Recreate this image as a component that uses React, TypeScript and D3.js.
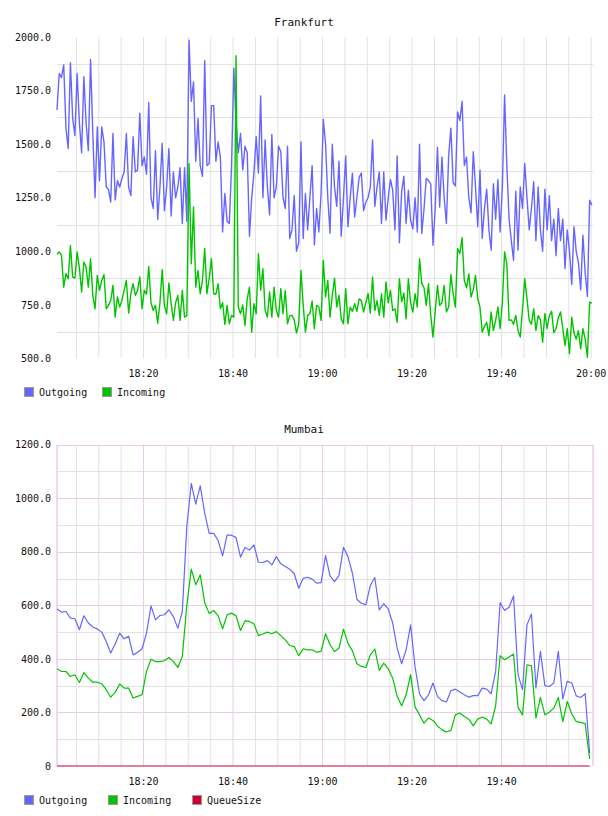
import React from 'react'
import * as d3 from 'd3'

// Frankfurt: one sample every 30 s, Mumbai: one sample every minute
const frankfurtOutgoing = [
  1660, 1830, 1810, 1870, 1575, 1480, 1880, 1620, 1540, 1830, 1600, 1460, 1815, 1600, 1470, 1895, 1550, 1250, 1580, 1330,
  1580, 1510, 1300, 1290, 1230, 1550, 1240, 1330, 1300, 1340, 1370, 1550, 1300, 1260, 1535, 1370, 1380, 1645, 1400, 1440,
  1360, 1695, 1250, 1200, 1470, 1150, 1300, 1505, 1190, 1300, 1480, 1165, 1370, 1250, 1300, 1390, 1130, 1390, 1140, 1985,
  1700, 1790, 1420, 1620, 1400, 1350, 1890, 1400, 1410, 1680, 1680, 1420, 1510, 1440, 1090, 1270, 1140, 1130, 1400, 1855,
  1600, 1460, 1550, 1380, 1490, 1460, 1070, 1250, 1365, 1535, 1365, 1725, 1250, 1520, 1300, 1170, 1545, 1250, 1300, 1490,
  1465, 1250, 1200, 1490, 1060, 1100, 1260, 1000, 1040, 1510, 1060, 1270, 1100, 1250, 1400, 1030, 1200, 1090, 1270, 1615,
  1500, 1250, 1085, 1500, 1300, 1210, 1420, 1070, 1250, 1445, 1115, 1250, 1365, 1160, 1250, 1345, 1365, 1190, 1230, 1250,
  1300, 1520, 1210, 1300, 1370, 1130, 1370, 1145, 1250, 1335, 1285, 1100, 1445, 1040, 1280, 1350, 1130, 1285, 1145, 1105,
  1250, 1090, 1500, 1083, 1200, 1340, 1330, 1315, 1028, 1200, 1485, 1207, 1440, 1250, 1130, 1445, 1575, 1320, 1305, 1650,
  1610, 1700, 1400, 1440, 1250, 1180, 1465, 1300, 1115, 1380, 1060, 1200, 1290, 1100, 1005, 1315, 1150, 1335, 1090, 1300,
  1730, 1400, 1150, 1050, 958, 1280, 1005, 1300, 1200, 1410, 1250, 1100, 1200, 1325, 1050, 1300, 1100, 1000, 1290, 1100,
  1260, 1050, 1150, 980, 1200, 1050, 1150, 920, 1100, 1000, 845, 1115, 1000, 945, 820, 1075, 900, 790, 1238, 1215,
]

const frankfurtIncoming = [
  986, 997, 981, 833, 896, 872, 1027, 880, 875, 997, 924, 810, 950, 927, 833, 966, 794, 732, 888, 818,
  864, 891, 732, 748, 771, 841, 693, 787, 740, 771, 818, 864, 712, 802, 849, 794, 818, 880, 732, 818,
  800, 930, 760, 724, 748, 665, 760, 914, 748, 709, 852, 756, 678, 760, 794, 678, 818, 693, 700, 1410,
  942, 1207, 833, 911, 802, 864, 1013, 802, 872, 966, 802, 800, 849, 732, 760, 659, 748, 662, 701, 693,
  1913, 740, 709, 750, 654, 778, 833, 623, 756, 709, 989, 818, 919, 724, 693, 810, 693, 833, 724, 693,
  826, 709, 818, 662, 700, 701, 680, 619, 660, 911, 750, 623, 701, 709, 768, 639, 748, 740, 678, 958,
  787, 864, 693, 794, 875, 740, 794, 685, 662, 826, 662, 740, 720, 756, 720, 778, 770, 717, 760, 802,
  712, 880, 724, 770, 701, 802, 693, 857, 760, 818, 724, 732, 669, 872, 764, 805, 685, 872, 760, 717,
  802, 740, 966, 849, 830, 748, 849, 701, 600, 720, 841, 748, 760, 841, 717, 740, 891, 802, 740, 1013,
  990, 1064, 864, 830, 896, 787, 820, 888, 780, 740, 623, 650, 669, 607, 717, 630, 678, 740, 640, 760,
  997, 940, 678, 680, 660, 701, 630, 600, 730, 872, 780, 678, 660, 732, 631, 700, 680, 576, 710, 640,
  700, 720, 620, 640, 690, 717, 640, 561, 640, 522, 693, 620, 590, 630, 545, 639, 590, 506, 763, 758,
]

const mumbaiOutgoing = [
  586, 575, 577, 552, 550, 509, 561, 534, 519, 512, 500, 465, 422, 456, 496, 475, 485, 415, 425, 438,
  496, 598, 546, 562, 565, 583, 558, 515, 577, 894, 1056, 978, 1046, 944, 869, 869, 842, 785, 862, 862,
  853, 780, 816, 807, 826, 761, 760, 767, 751, 782, 755, 745, 735, 718, 664, 701, 705, 698, 683, 685,
  786, 710, 689, 711, 817, 782, 720, 623, 608, 602, 674, 704, 583, 606, 587, 534, 440, 382, 434, 527,
  370, 269, 244, 266, 310, 260, 244, 239, 281, 287, 276, 266, 257, 263, 263, 291, 287, 270, 353, 610,
  581, 593, 635, 341, 285, 527, 568, 291, 428, 300, 297, 310, 428, 250, 316, 310, 262, 256, 270, 48,
]

const mumbaiIncoming = [
  363, 353, 353, 334, 341, 312, 349, 328, 313, 313, 307, 285, 257, 275, 306, 291, 291, 254, 260, 266,
  353, 399, 390, 390, 393, 405, 390, 368, 409, 600, 735, 677, 714, 610, 570, 581, 561, 512, 565, 571,
  561, 506, 542, 540, 531, 487, 493, 500, 494, 502, 487, 471, 450, 446, 412, 438, 434, 434, 425, 428,
  494, 453, 428, 440, 511, 459, 430, 382, 372, 368, 415, 437, 357, 384, 363, 328, 260, 225, 266, 341,
  220, 191, 160, 179, 170, 150, 135, 127, 133, 191, 198, 185, 175, 150, 175, 183, 175, 157, 225, 412,
  397, 407, 418, 220, 191, 378, 374, 179, 256, 191, 201, 216, 256, 166, 241, 195, 166, 163, 158, 26,
]

const mumbaiQueueSize = [
  0, 0, 0, 0, 0, 0, 0, 0, 0, 0, 0, 0, 0, 0, 0, 0, 0, 0, 0, 0,
  0, 0, 0, 0, 0, 0, 0, 0, 0, 0, 0, 0, 0, 0, 0, 0, 0, 0, 0, 0,
  0, 0, 0, 0, 0, 0, 0, 0, 0, 0, 0, 0, 0, 0, 0, 0, 0, 0, 0, 0,
  0, 0, 0, 0, 0, 0, 0, 0, 0, 0, 0, 0, 0, 0, 0, 0, 0, 0, 0, 0,
  0, 0, 0, 0, 0, 0, 0, 0, 0, 0, 0, 0, 0, 0, 0, 0, 0, 0, 0, 0,
  0, 0, 0, 0, 0, 0, 0, 0, 0, 0, 0, 0, 0, 0, 0, 0, 0, 0, 0, 0,
]

const frankfurtTicks = [500, 750, 1000, 1250, 1500, 1750, 2000]
const frankfurtGrid = [625, 875, 1125, 1375, 1625, 1875]
const mumbaiTicks = [0, 200, 400, 600, 800, 1000, 1200]
const mumbaiMinorGrid = [100, 300, 500, 700, 900, 1100]

const startTime = new Date(2012, 5, 14, 18, 0, 40)
const endTime = new Date(2012, 5, 14, 20, 0, 25)

const frankfurtTimes = frankfurtOutgoing.map((_, i) => d3.timeSecond.offset(startTime, i * 30))
const mumbaiTimes = mumbaiOutgoing.map((_, i) => d3.timeMinute.offset(startTime, i))

const BLUE = '#6666ff'
const GREEN = '#00c400'
const RED = '#cc0033'
const GRID = '#e2e2e2'
const PINK = '#e8cce8'
const FONT = '"DejaVu Sans Mono", monospace'

const left = 57
const right = 593

const x = d3.scaleTime().domain([startTime, endTime]).range([left, right])
const labelTicks = x.ticks(d3.timeMinute.every(20))
const gridTicks = x.ticks(d3.timeMinute.every(5))
const timeFmt = d3.timeFormat('%H:%M')

const Legend = ({ y, items }) => (
  <g>
    {items.map((it) => (
      <g key={it.name}>
        <rect x={it.x + 0.5} y={y + 0.5} width={9} height={9} fill={it.color} stroke="#999" />
        <text x={it.x + 15} y={y + 8.5} fontSize={10} fontFamily={FONT} fill="#111">{it.name}</text>
      </g>
    ))}
  </g>
)

const App = () => {
  // Frankfurt panel
  const fTop = 37
  const fBottom = 358.5
  const yF = d3.scaleLinear().domain([500, 2000]).range([fBottom, fTop])
  const lineF = (vals) => d3.line<number>().x((_, i) => x(frankfurtTimes[i])).y((d) => yF(d))(vals)

  // Mumbai panel
  const mTop = 444.7
  const mBottom = 766
  const yM = d3.scaleLinear().domain([0, 1200]).range([mBottom, mTop])
  const lineM = (vals) => d3.line<number>().x((_, i) => x(mumbaiTimes[i])).y((d) => yM(d))(vals)
  const fmt = d3.format('.1f')
  const isLabel = (t) => labelTicks.some((l) => +l === +t)
  // the 20:00 line falls on the frame's right edge
  const innerLabels = labelTicks.filter((t) => x(t) < right - 4)

  return (
    <svg width={608} height={816} style={{ position: 'absolute', left: 0, top: 0, background: '#fff' }}>
      {/* Frankfurt */}
      <text x={304} y={25.5} textAnchor="middle" fontSize={11} fontFamily={FONT} fill="#111">Frankfurt</text>
      {gridTicks.map((t) => (
        <line key={+t} x1={x(t)} x2={x(t)} y1={fTop} y2={fBottom} stroke={GRID} />
      ))}
      {frankfurtGrid.map((v) => (
        <line key={v} x1={left} x2={right} y1={Math.round(yF(v)) + 0.5} y2={Math.round(yF(v)) + 0.5} stroke={GRID} />
      ))}
      {frankfurtTicks.map((v) => (
        <text key={v} x={51} y={yF(v)} dy="0.36em" textAnchor="end" fontSize={10} fontFamily={FONT} fill="#111">{fmt(v)}</text>
      ))}
      {labelTicks.map((t) => (
        <text key={+t} x={x(t)} y={377} textAnchor="middle" fontSize={10} fontFamily={FONT} fill="#111">{timeFmt(t)}</text>
      ))}
      <path d={lineF(frankfurtOutgoing)} fill="none" stroke={BLUE} strokeWidth={1.4} strokeLinejoin="round" />
      <path d={lineF(frankfurtIncoming)} fill="none" stroke={GREEN} strokeWidth={1.4} strokeLinejoin="round" />
      <Legend y={387} items={[{ name: 'Outgoing', color: BLUE, x: 24 }, { name: 'Incoming', color: GREEN, x: 102 }]} />

      {/* Mumbai */}
      <text x={304} y={433} textAnchor="middle" fontSize={11} fontFamily={FONT} fill="#111">Mumbai</text>
      {gridTicks.filter((t) => !isLabel(t)).map((t) => (
        <line key={+t} x1={x(t)} x2={x(t)} y1={mTop} y2={mBottom} stroke={GRID} />
      ))}
      {mumbaiMinorGrid.map((v) => (
        <line key={v} x1={left} x2={right} y1={Math.round(yM(v)) + 0.5} y2={Math.round(yM(v)) + 0.5} stroke={GRID} />
      ))}
      {innerLabels.map((t) => (
        <line key={+t} x1={x(t)} x2={x(t)} y1={mTop} y2={mBottom} stroke={PINK} />
      ))}
      {mumbaiTicks.filter((v) => v > 0).map((v) => (
        <line key={v} x1={left} x2={right} y1={Math.round(yM(v)) + 0.5} y2={Math.round(yM(v)) + 0.5} stroke={PINK} />
      ))}
      <line x1={left} x2={left} y1={mTop} y2={mBottom} stroke={PINK} strokeWidth={1.5} />
      <line x1={right} x2={right} y1={mTop} y2={mBottom} stroke={PINK} strokeWidth={1.5} />
      {mumbaiTicks.map((v) => (
        <text key={v} x={51} y={yM(v)} dy="0.36em" textAnchor="end" fontSize={10} fontFamily={FONT} fill="#111">{v === 0 ? '0' : fmt(v)}</text>
      ))}
      {innerLabels.map((t) => (
        <text key={+t} x={x(t)} y={785} textAnchor="middle" fontSize={10} fontFamily={FONT} fill="#111">{timeFmt(t)}</text>
      ))}
      <path d={lineM(mumbaiOutgoing)} fill="none" stroke={BLUE} strokeWidth={1.2} strokeLinejoin="round" />
      <path d={lineM(mumbaiIncoming)} fill="none" stroke={GREEN} strokeWidth={1.2} strokeLinejoin="round" />
      <path d={lineM(mumbaiQueueSize)} fill="none" stroke={RED} strokeWidth={1.2} />
      <Legend
        y={795}
        items={[
          { name: 'Outgoing', color: BLUE, x: 24 },
          { name: 'Incoming', color: GREEN, x: 108 },
          { name: 'QueueSize', color: RED, x: 192 },
        ]}
      />
    </svg>
  )
}

export default App
